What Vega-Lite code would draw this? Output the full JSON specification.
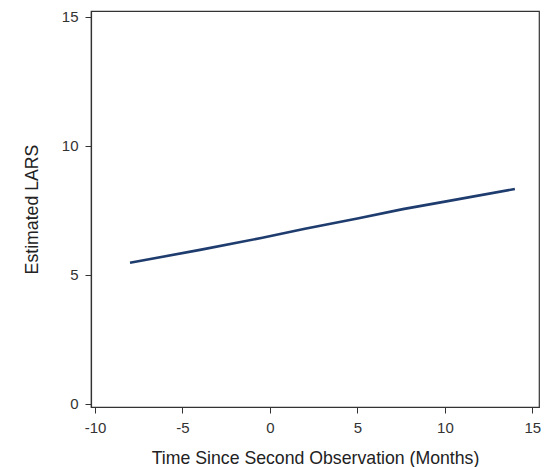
{
  "$schema": "https://vega.github.io/schema/vega-lite/v6.json",
  "width": 448,
  "height": 396,
  "autosize": {"type": "none"},
  "padding": {"left": 91, "top": 11, "right": 11, "bottom": 60},
  "background": "white",
  "config": {
    "view": {"stroke": "#333333", "strokeWidth": 1.2},
    "font": "Liberation Sans",
    "axis": {
      "grid": false,
      "domainColor": "#333333",
      "domainWidth": 1.2,
      "tickColor": "#333333",
      "tickSize": 6,
      "labelFont": "Liberation Sans",
      "labelFontSize": 15,
      "labelColor": "#333333",
      "titleFont": "Liberation Sans",
      "titleFontSize": 17.7,
      "titleFontWeight": "normal",
      "titleColor": "#222222"
    }
  },
  "data": {
    "values": [
      {"time": -8, "lars": 5.46},
      {"time": -4, "lars": 5.96},
      {"time": -0.5, "lars": 6.42},
      {"time": 2, "lars": 6.78},
      {"time": 5, "lars": 7.18},
      {"time": 7.6, "lars": 7.54},
      {"time": 10, "lars": 7.83},
      {"time": 14, "lars": 8.32}
    ]
  },
  "mark": {"type": "line", "color": "#1f3c6e", "strokeWidth": 2.6},
  "encoding": {
    "x": {
      "field": "time",
      "type": "quantitative",
      "scale": {"domain": [-10.23, 15.38], "nice": false, "zero": false},
      "axis": {"values": [-10, -5, 0, 5, 10, 15], "labelExpr": "'' + datum.value", "title": "Time Since Second Observation (Months)", "labelPadding": 7, "titlePadding": 14}
    },
    "y": {
      "field": "lars",
      "type": "quantitative",
      "scale": {"domain": [-0.13, 15.22], "nice": false, "zero": false},
      "axis": {"values": [0, 5, 10, 15], "title": "Estimated LARS", "labelPadding": 7, "titlePadding": 20}
    }
  }
}
